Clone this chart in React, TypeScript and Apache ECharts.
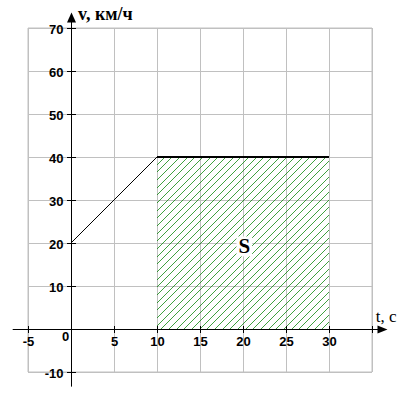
import React, { useEffect, useRef } from 'react';
import * as echarts from 'echarts';

// Axis ranges and ticks
const xRange = [-5, 35];
const yRange = [-10, 70];
const xStep = 5;
const yStep = 10;
const xTicks = [-5, 5, 10, 15, 20, 25, 30, 35];
const yTicks = [-10, 10, 20, 30, 40, 50, 60, 70];
const xTickLabels = ['-5', '5', '10', '15', '20', '25', '30', ''];
const yTickLabels = ['-10', '10', '20', '30', '40', '50', '60', '70'];

// Velocity graph v(t)
const rampPoints = [[0, 20], [10, 40]];
const plateauPoints = [[10, 40], [30, 40]];

// Shaded area S
const areaT = [10, 30];
const areaV = [0, 40];

// Drawn axis extents (data units, beyond the grid)
const axisExtentT = [-6.78, 36.8];
const axisExtentV = [-13.4, 73.6];

// Texts and their anchor points (data units)
const labelV = 'v, км/ч';
const labelT = 't, с';
const labelS = 'S';
const labelZero = '0';
const labelVAt = [0.8, 73.3];
const labelTAt = [35.45, 3.0];
const labelSAt = [20.15, 19.2];
const labelZeroAt = [-0.2, -1.8];

const snap = (v: number) => Math.floor(v) + 0.5;

export default function App() {
  const ref = useRef<HTMLDivElement>(null);
  useEffect(() => {
    if (!ref.current) return;
    const chart = echarts.init(ref.current, null, { renderer: 'svg' });
    const tickFont = { fontFamily: 'Liberation Sans', fontWeight: 'bold', fontSize: 13, fill: '#000' };
    const option: any = {
      animation: false,
      backgroundColor: '#fff',
      grid: { left: 28, right: 28, top: 28, bottom: 28, show: true, borderColor: '#c0c0c0', borderWidth: 1 },
      xAxis: {
        type: 'value',
        min: xRange[0],
        max: xRange[1],
        interval: xStep,
        axisLine: { show: false },
        axisTick: { show: false },
        axisLabel: { show: false },
        splitLine: { show: true, lineStyle: { color: '#c0c0c0', width: 1 } },
      },
      yAxis: {
        type: 'value',
        min: yRange[0],
        max: yRange[1],
        interval: yStep,
        axisLine: { show: false },
        axisTick: { show: false },
        axisLabel: { show: false },
        splitLine: { show: true, lineStyle: { color: '#c0c0c0', width: 1 } },
      },
      series: [
        {
          type: 'custom',
          z: 1,
          silent: true,
          data: [[areaT[0], areaT[1], areaV[0], areaV[1]]],
          renderItem: (params: any, api: any) => {
            const p1 = api.coord([api.value(0), api.value(3)]);
            const p2 = api.coord([api.value(1), api.value(2)]);
            const L = p1[0], T = p1[1], R = p2[0], B = p2[1];
            const s = 7.67;
            const children: any[] = [];
            for (let m = 1; L + T + s * m < R + B; m++) {
              const k = Math.round(L + T + s * m);
              const xmin = Math.max(L, k - B);
              const xmax = Math.min(R, k - T);
              if (xmax - xmin > 0.5) {
                children.push({
                  type: 'line',
                  shape: { x1: xmin, y1: k - xmin, x2: xmax, y2: k - xmax },
                  style: { stroke: 'rgba(0,128,0,0.75)', lineWidth: 1 },
                });
              }
            }
            return { type: 'group', children };
          },
        },
        {
          type: 'line',
          z: 3,
          silent: true,
          symbol: 'none',
          data: rampPoints,
          lineStyle: { color: '#000', width: 1 },
        },
        {
          type: 'line',
          z: 3,
          silent: true,
          symbol: 'none',
          data: plateauPoints,
          lineStyle: { color: '#000', width: 2 },
        },
        {
          type: 'custom',
          z: 5,
          silent: true,
          data: [[0, 0]],
          renderItem: (params: any, api: any) => {
            const o = api.coord([0, 0]);
            const ox = snap(o[0]);
            const oy = snap(o[1]);
            const xl = api.coord([axisExtentT[0], 0])[0];
            const xr = api.coord([axisExtentT[1], 0])[0];
            const yb = api.coord([0, axisExtentV[0]])[1];
            const yt = api.coord([0, axisExtentV[1]])[1];
            const ls = { stroke: '#000', lineWidth: 1 };
            const children: any[] = [];
            children.push({ type: 'line', shape: { x1: xl, y1: oy, x2: xr - 6, y2: oy }, style: ls });
            children.push({
              type: 'polygon',
              shape: { points: [[xr, oy], [xr - 10, oy - 4], [xr - 10, oy + 4]] },
              style: { fill: '#000' },
            });
            children.push({ type: 'line', shape: { x1: ox, y1: yb, x2: ox, y2: yt + 6 }, style: ls });
            children.push({
              type: 'polygon',
              shape: { points: [[ox, yt], [ox - 4.5, yt + 10], [ox + 4.5, yt + 10]] },
              style: { fill: '#000' },
            });
            xTicks.forEach((t, i) => {
              const px = snap(api.coord([t, 0])[0]);
              children.push({ type: 'line', shape: { x1: px, y1: oy - 3.5, x2: px, y2: oy + 3.5 }, style: ls });
              if (xTickLabels[i]) {
                children.push({
                  type: 'text',
                  style: { ...tickFont, text: xTickLabels[i], x: px, y: oy + 11.5, align: 'center', verticalAlign: 'middle' },
                });
              }
            });
            yTicks.forEach((v, i) => {
              const py = snap(api.coord([0, v])[1]);
              children.push({ type: 'line', shape: { x1: ox - 4.5, y1: py, x2: ox + 4.5, y2: py }, style: ls });
              if (yTickLabels[i]) {
                children.push({
                  type: 'text',
                  style: { ...tickFont, text: yTickLabels[i], x: ox - 8, y: py + 0.5, align: 'right', verticalAlign: 'middle' },
                });
              }
            });
            const pv = api.coord(labelVAt);
            children.push({
              type: 'text',
              style: {
                text: labelV, x: pv[0], y: pv[1], align: 'left', verticalAlign: 'middle',
                fontFamily: 'Liberation Serif', fontWeight: 'bold', fontSize: 18, fill: '#000',
              },
            });
            const pt = api.coord(labelTAt);
            children.push({
              type: 'text',
              style: {
                text: labelT, x: pt[0], y: pt[1], align: 'left', verticalAlign: 'middle',
                fontFamily: 'Liberation Serif', fontSize: 17, fill: '#000',
              },
            });
            const pz = api.coord(labelZeroAt);
            children.push({
              type: 'text',
              style: {
                ...tickFont, text: labelZero, x: pz[0], y: pz[1], align: 'right', verticalAlign: 'middle',
              },
            });
            const ps = api.coord(labelSAt);
            children.push({
              type: 'text',
              style: {
                text: labelS, x: ps[0], y: ps[1], align: 'center', verticalAlign: 'middle',
                fontFamily: 'Liberation Serif', fontWeight: 'bold', fontSize: 21, fill: '#000',
                backgroundColor: '#fff', padding: [0, 2], lineHeight: 20,
              },
            });
            return { type: 'group', children };
          },
        },
      ],
    };
    chart.setOption(option);
    return () => chart.dispose();
  }, []);
  return (
    <div
      ref={ref}
      style={{ position: 'absolute', left: 0, top: 0, width: 400, height: 400, background: '#fff' }}
    />
  );
}
